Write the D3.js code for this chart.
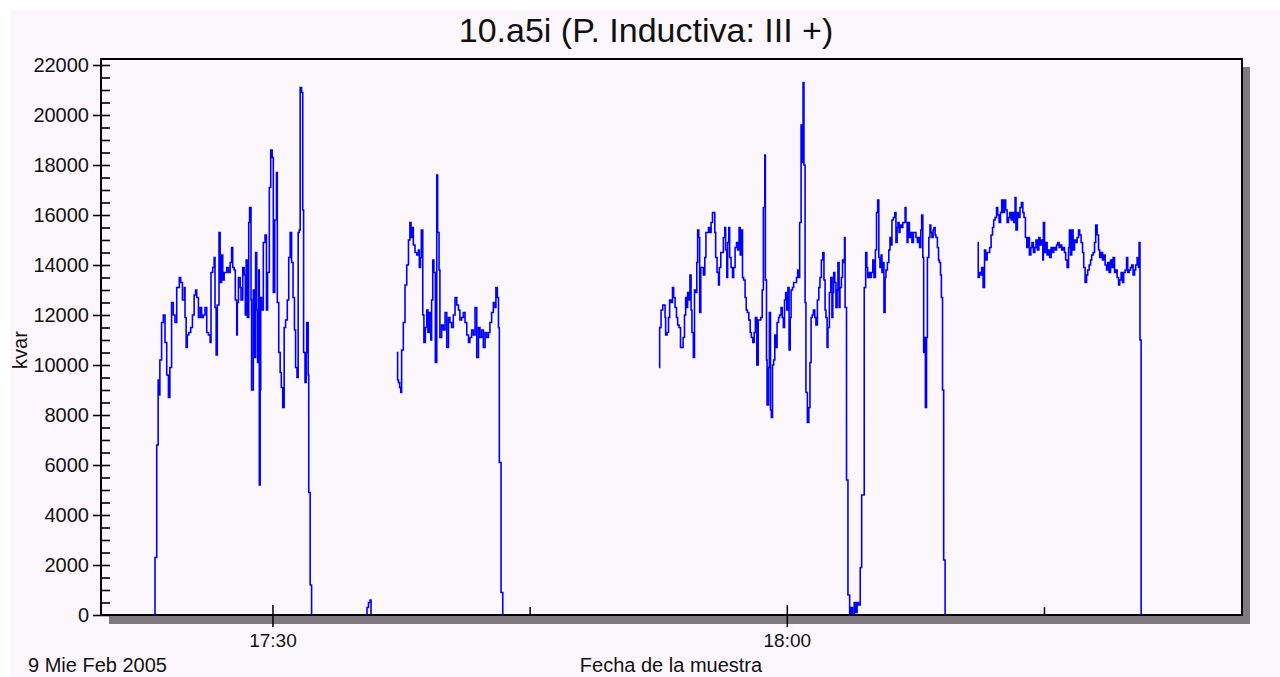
<!DOCTYPE html>
<html>
<head>
<meta charset="utf-8">
<script src="https://cdn.jsdelivr.net/npm/d3@7"></script>
<style>
  html, body { margin: 0; padding: 0; background: #ffffff; }
  svg { display: block; font-family: "Liberation Sans", Arial, sans-serif; }
</style>
</head>
<body>
<div id="chart"></div>
<script>
const WIDTH = 1280, HEIGHT = 677,
    PLOT = { LEFT: 101, TOP: 59, RIGHT: 1242, BOTTOM: 615 },
    INNER_WIDTH = PLOT.RIGHT - PLOT.LEFT,
    INNER_HEIGHT = PLOT.BOTTOM - PLOT.TOP,
    BG = "#fcf7fc";

// seconds after 17:20:00 on 9 Feb 2005, kvar
const run1 = [[182,0],[189,2300],[195,6800],[200,9400],[203,8800],[206,10200],[212,11700],[218,12000],[224,10900],[230,9600],
    [236,8700],[241,9900],[247,12500],[253,12000],[259,11700],[265,13100],[274,13500],[279,13300],[285,12600],[292,13100],
    [294,11900],[298,10700],[302,11200],[307,11300],[314,11500],[320,12000],[326,12800],[331,13000],[335,12700],[341,11900],
    [347,12300],[352,11900],[358,12000],[364,12300],[370,11300],[376,11200],[382,10900],[385,13700],[391,13900],[396,14300],
    [399,12300],[403,10400],[407,12400],[413,15300],[417,13300],[422,14400],[426,13400],[431,13700],[435,13700],[440,13900],
    [446,13700],[452,14100],[457,14700],[461,13900],[466,13800],[470,12600],[475,11200],[477,12500],[481,13500],[487,13100],
    [490,12600],[496,13900],[501,13600],[505,12000],[508,14200],[512,11900],[517,15700],[520,16300],[525,12600],[527,9000],
    [533,13000],[537,10300],[541,14500],[545,12200],[548,10100],[552,13800],[554,5200],[557,9000],[559,12700],[562,12200],
    [568,14900],[574,15200],[579,12200],[583,13700],[589,17100],[594,18600],[599,18300],[603,12900],[608,15800],[614,17700],
    [617,12500],[622,10500],[627,9700],[631,9100],[636,8300],[641,11500],[646,11800],[652,12600],[657,14300],[662,15300],
    [667,14100],[672,12700],[677,11400],[681,9900],[686,9500],[690,15300],[694,15400],[697,21100],[702,20900],[706,16200],
    [709,10500],[714,9300],[718,10500],[720,11700],[725,9600],[727,4900],[732,1200],[737,0]];

const blip = [[928,0],[931,300],[936,500],[942,600],[945,0]];

const run2 = [[1035,10500],[1038,9400],[1041,9300],[1045,9100],[1049,8900],[1052,10600],[1058,11700],[1064,13200],[1070,14000],
    [1076,15000],[1081,15700],[1085,15100],[1088,15500],[1093,14800],[1099,14500],[1105,14400],[1111,14600],[1114,13900],
    [1118,14300],[1121,15400],[1126,12000],[1130,10900],[1135,11500],[1140,12200],[1144,11300],[1149,12100],[1154,11000],
    [1157,12600],[1161,14200],[1165,13700],[1170,10100],[1175,17600],[1178,15300],[1183,13800],[1186,11100],[1192,11600],
    [1198,11400],[1204,12100],[1210,10700],[1216,11900],[1221,11700],[1227,11500],[1233,12000],[1239,12700],[1245,12400],
    [1251,12200],[1256,11800],[1262,11900],[1268,12100],[1274,11700],[1280,11200],[1286,10900],[1291,11100],[1297,11400],
    [1303,11200],[1309,12300],[1315,10300],[1321,11500],[1326,11100],[1332,11400],[1338,10700],[1344,11300],[1350,11100],
    [1356,11300],[1361,11700],[1367,12100],[1373,12500],[1379,12300],[1382,13100],[1387,12700],[1391,11500],[1394,6100],
    [1400,900],[1406,0]];

const run3 = [[1953,9900],[1955,11500],[1960,12200],[1966,12400],[1972,12400],[1974,11900],[1976,11200],[1981,11300],[1986,11900],
    [1990,12600],[1995,12500],[2000,13100],[2004,12700],[2009,12300],[2014,11900],[2018,11600],[2023,11500],[2028,10700],
    [2032,10700],[2037,11100],[2042,12000],[2046,12700],[2050,12300],[2053,12900],[2057,12600],[2061,13600],[2065,12200],
    [2068,11300],[2073,10300],[2077,13000],[2081,12900],[2085,14100],[2088,15400],[2092,15100],[2095,12100],[2099,13900],
    [2103,13900],[2108,13600],[2113,14300],[2117,15300],[2122,15300],[2126,15500],[2130,15300],[2135,15700],[2140,16100],
    [2144,16100],[2148,15300],[2151,14300],[2156,13700],[2161,13200],[2164,13900],[2169,14500],[2174,14500],[2178,15100],
    [2183,15500],[2186,14600],[2190,13500],[2193,14900],[2197,15500],[2200,14300],[2205,13900],[2210,13500],[2214,13900],
    [2219,14700],[2224,14900],[2228,14600],[2233,15500],[2237,14400],[2240,15400],[2245,13500],[2249,13400],[2254,12700],
    [2258,12200],[2262,12100],[2267,11800],[2272,11300],[2276,11100],[2281,10900],[2286,11300],[2290,11900],[2295,10000],
    [2300,11800],[2304,11800],[2309,11900],[2314,13000],[2318,16300],[2323,18400],[2325,13400],[2329,10200],[2331,8400],
    [2336,9900],[2339,12100],[2343,8200],[2346,7900],[2350,10000],[2354,10200],[2358,11200],[2361,10700],[2366,11700],
    [2371,11900],[2375,12000],[2380,12300],[2384,11900],[2388,11500],[2392,12600],[2396,12900],[2400,12200],[2404,13100],
    [2408,10600],[2412,11900],[2415,13000],[2420,13100],[2424,13300],[2429,13300],[2434,13500],[2438,13800],[2442,13500],
    [2445,15700],[2450,19600],[2453,18100],[2457,21300],[2460,18000],[2464,12500],[2467,8900],[2472,7700],[2477,8300],
    [2481,10100],[2485,11900],[2489,12000],[2493,12200],[2498,11900],[2502,11600],[2507,12600],[2512,13100],[2516,13500],
    [2521,14200],[2526,14500],[2530,13400],[2534,12200],[2537,11900],[2541,10700],[2544,11500],[2549,12900],[2554,13500],
    [2558,11900],[2561,12900],[2564,13700],[2568,13300],[2572,12300],[2576,13000],[2579,14100],[2583,12300],[2586,13100],
    [2591,13500],[2595,14200],[2598,14100],[2602,15100],[2604,12300],[2609,5400],[2614,800],[2620,0],[2625,300],[2630,0],
    [2636,500],[2641,100],[2646,500],[2651,400],[2657,1900],[2662,4800],[2671,13100],[2676,14500],[2680,13900],[2683,13500],
    [2687,13700],[2691,13500],[2696,13700],[2701,14200],[2705,13500],[2710,14600],[2714,16100],[2718,16600],[2722,14300],
    [2726,13900],[2730,14400],[2733,13700],[2737,14100],[2740,12100],[2744,13500],[2747,13800],[2752,14100],[2757,14600],
    [2761,15100],[2765,14800],[2768,15800],[2773,15900],[2778,16100],[2782,14900],[2786,15500],[2789,15700],[2793,15300],
    [2796,15600],[2801,15500],[2806,15700],[2810,15700],[2814,16300],[2817,15700],[2821,14900],[2824,15700],[2829,15100],
    [2834,15300],[2838,14900],[2843,15300],[2848,15300],[2852,15100],[2857,14900],[2862,15100],[2865,14700],[2869,15400],
    [2872,16000],[2876,14300],[2879,10500],[2883,11100],[2885,8300],[2889,11100],[2892,14300],[2897,15100],[2901,15600],
    [2904,15300],[2908,15100],[2912,15400],[2915,15500],[2919,15200],[2922,15100],[2927,14700],[2931,14200],[2934,14100],
    [2938,13600],[2941,12700],[2945,9000],[2949,2200],[2954,0]];

const run4 = [[3068,14900],[3070,13500],[3074,13700],[3078,13600],[3082,13900],[3087,13100],[3092,14600],[3096,14200],[3101,14500],
    [3106,14500],[3110,14700],[3115,15200],[3120,15500],[3124,15800],[3129,15900],[3134,16300],[3138,16000],[3143,15700],
    [3148,16100],[3152,16600],[3157,16100],[3162,16600],[3166,16200],[3171,15700],[3176,15900],[3180,16100],[3185,15800],
    [3190,16100],[3194,15700],[3199,16700],[3202,15400],[3207,16100],[3212,15900],[3216,16300],[3221,16500],[3226,16100],
    [3230,15900],[3235,15100],[3240,14700],[3244,15100],[3249,14400],[3254,14700],[3258,14900],[3263,14500],[3268,14700],
    [3272,15000],[3277,14600],[3282,15100],[3286,14800],[3291,15000],[3296,14200],[3298,15700],[3302,14500],[3306,14900],
    [3311,14400],[3316,14600],[3320,14300],[3325,14700],[3330,14500],[3334,14700],[3339,14600],[3344,14800],[3348,14900],
    [3353,14700],[3358,14800],[3362,14600],[3367,14700],[3372,14500],[3376,14200],[3381,13900],[3386,14700],[3389,15400],
    [3393,14400],[3397,15400],[3402,14600],[3407,15000],[3412,14900],[3416,15100],[3421,15400],[3425,15200],[3430,14900],
    [3435,14500],[3439,13900],[3444,13300],[3449,13600],[3453,13800],[3458,14000],[3463,14200],[3467,14400],[3472,14500],
    [3477,14900],[3481,15600],[3486,15200],[3491,14600],[3495,14300],[3500,14500],[3505,14200],[3509,14400],[3514,14000],
    [3519,13800],[3523,14100],[3528,13700],[3533,14200],[3537,13900],[3542,14300],[3547,13700],[3551,13800],[3556,13500],
    [3561,13200],[3565,13400],[3570,13700],[3575,13300],[3579,13700],[3584,13800],[3589,14300],[3593,13700],[3598,13800],
    [3603,13900],[3607,14000],[3612,13600],[3617,13800],[3621,14000],[3626,14300],[3631,13900],[3633,14900],[3636,11000],
    [3640,0]];

const runs = [run1, blip, run2, run3, run4];

const yTicks = d3.range(0, 22001, 2000);
const yMinorTicks = d3.range(0, 22001, 500);
const xMajorTicks = [new Date(2005, 1, 9, 17, 30), new Date(2005, 1, 9, 18, 0)];
const xMinorTicks = [new Date(2005, 1, 9, 17, 45), new Date(2005, 1, 9, 18, 15)];
const START = new Date(2005, 1, 9, 17, 20, 0),
    END = new Date(2005, 1, 9, 18, 26, 33);

const svg = d3.select("#chart").append("svg")
    .attr("width", WIDTH)
    .attr("height", HEIGHT);

// background panel
svg.append("rect")
    .attr("x", 10).attr("y", 10)
    .attr("width", WIDTH - 10).attr("height", HEIGHT - 10)
    .attr("fill", BG);

// drop shadow + plot box
svg.append("rect")
    .attr("x", PLOT.LEFT + 8).attr("y", PLOT.TOP + 8)
    .attr("width", INNER_WIDTH).attr("height", INNER_HEIGHT + 1)
    .attr("fill", "#7f797f");
svg.append("rect")
    .attr("x", PLOT.LEFT).attr("y", PLOT.TOP)
    .attr("width", INNER_WIDTH).attr("height", INNER_HEIGHT)
    .attr("fill", BG);

const g = svg.append("g")
    .attr("transform", `translate(${PLOT.LEFT}, ${PLOT.TOP})`);

const xScale = d3.scaleTime()
    .domain([START, END])
    .range([0, INNER_WIDTH]);
const yScale = d3.scaleLinear()
    .domain([0, 22000])
    .range([INNER_HEIGHT, 6]);

const line = d3.line()
    .x(d => xScale(new Date(START.getTime() + d[0] * 1000)))
    .y(d => yScale(d[1]))
    .curve(d3.curveStepAfter);

g.selectAll(".run")
    .data(runs)
    .join("path")
    .attr("class", "run")
    .attr("fill", "none")
    .attr("stroke", "#0000ff")
    .attr("stroke-width", 1.6)
    .attr("d", line);

// y axis: labelled ticks outside, minor ticks inside
const yAxis = g.append("g")
    .call(d3.axisLeft(yScale).tickValues(yTicks).tickSize(8).tickSizeOuter(0).tickPadding(4).tickFormat(d3.format("d")));
yAxis.select(".domain").remove();
yAxis.selectAll("line").attr("stroke", "#000").attr("stroke-width", 1.6);
yAxis.selectAll("text")
    .attr("font-family", "'Liberation Sans', Arial, sans-serif")
    .style("font-size", "20px")
    .attr("fill", "#111");

const yMinor = g.append("g")
    .call(d3.axisRight(yScale).tickValues(yMinorTicks).tickSize(9).tickFormat(""));
yMinor.select(".domain").remove();
yMinor.selectAll("line").attr("stroke", "#000").attr("stroke-width", 1.6);

// x axis
const xAxis = g.append("g")
    .attr("transform", `translate(0, ${INNER_HEIGHT})`)
    .call(d3.axisBottom(xScale).tickValues(xMajorTicks).tickSize(12).tickPadding(7).tickFormat(d3.timeFormat("%H:%M")));
xAxis.select(".domain").remove();
xAxis.selectAll("line").attr("y1", -10).attr("stroke", "#000").attr("stroke-width", 1.5);
xAxis.selectAll("text")
    .attr("font-family", "'Liberation Sans', Arial, sans-serif")
    .style("font-size", "19px")
    .attr("fill", "#111");

const xMinor = g.append("g")
    .attr("transform", `translate(0, ${INNER_HEIGHT})`)
    .call(d3.axisTop(xScale).tickValues(xMinorTicks).tickSize(8).tickFormat(""));
xMinor.select(".domain").remove();
xMinor.selectAll("line").attr("stroke", "#000").attr("stroke-width", 1.5);

// frame
svg.append("rect")
    .attr("x", PLOT.LEFT).attr("y", PLOT.TOP)
    .attr("width", INNER_WIDTH).attr("height", INNER_HEIGHT)
    .attr("fill", "none")
    .attr("stroke", "#000")
    .attr("stroke-width", 2);

// Titles
svg.append("text")
    .attr("x", 646)
    .attr("y", 42)
    .attr("text-anchor", "middle")
    .style("font-size", "34px")
    .attr("fill", "#111")
    .text("10.a5i (P. Inductiva: III +)");

svg.append("text")
    .attr("transform", "rotate(-90)")
    .attr("x", -350)
    .attr("y", 27)
    .attr("text-anchor", "middle")
    .style("font-size", "20px")
    .attr("fill", "#111")
    .text("kvar");

svg.append("text")
    .attr("x", 28)
    .attr("y", 672)
    .style("font-size", "20px")
    .attr("fill", "#111")
    .text("9 Mie Feb 2005");

svg.append("text")
    .attr("x", 671)
    .attr("y", 672)
    .attr("text-anchor", "middle")
    .style("font-size", "20px")
    .attr("fill", "#111")
    .text("Fecha de la muestra");
</script>
</body>
</html>
